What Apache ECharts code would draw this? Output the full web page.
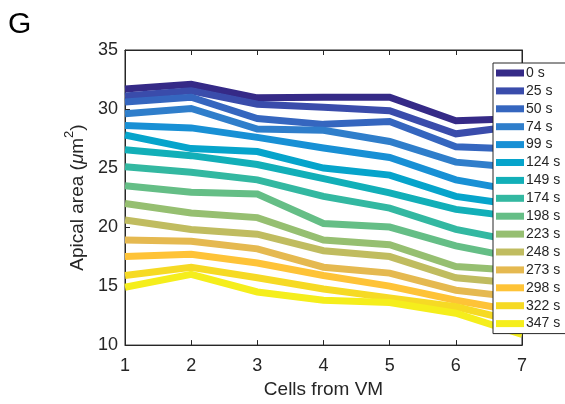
<!DOCTYPE html>
<html>
<head>
<meta charset="utf-8">
<script src="https://cdn.jsdelivr.net/npm/echarts@6/dist/echarts.min.js"></script>
<style>
html, body { margin: 0; padding: 0; background: #fff; }
#main { width: 565px; height: 404px; }
</style>
</head>
<body>
<div id="main"></div>
<script>
// cells from VM
var cells = [1, 2, 3, 4, 5, 6, 7];
var times = ['0 s', '25 s', '50 s', '74 s', '99 s', '124 s', '149 s', '174 s',
             '198 s', '223 s', '248 s', '273 s', '298 s', '322 s', '347 s'];
var yTicks = [10, 15, 20, 25, 30, 35];

// apical area per time point
var a0   = [31.7, 32.1, 30.95, 31.0, 31.0, 29.0, 29.2];
var a25  = [31.1, 31.55, 30.4, 30.15, 29.85, 27.9, 28.6];
var a50  = [30.6, 31.0, 29.2, 28.7, 28.95, 26.8, 26.6];
var a74  = [29.6, 30.05, 28.3, 28.2, 27.25, 25.5, 25.0];
var a99  = [28.6, 28.4, 27.6, 26.7, 25.9, 24.0, 23.0];
var a124 = [27.8, 26.65, 26.4, 25.0, 24.4, 22.6, 21.8];
var a149 = [26.55, 26.05, 25.3, 24.1, 22.9, 21.5, 20.8];
var a174 = [25.1, 24.65, 24.0, 22.6, 21.6, 19.8, 18.7];
var a198 = [23.5, 22.95, 22.8, 20.3, 20.0, 18.4, 17.3];
var a223 = [22.0, 21.2, 20.8, 18.9, 18.5, 16.65, 16.3];
var a248 = [20.6, 19.8, 19.4, 18.0, 17.5, 15.7, 15.2];
var a273 = [18.9, 18.8, 18.15, 16.6, 16.1, 14.65, 14.0];
var a298 = [17.5, 17.7, 16.95, 15.9, 15.0, 13.8, 12.8];
var a322 = [15.9, 16.6, 15.7, 14.75, 14.0, 13.25, 11.9];
var a347 = [14.9, 16.0, 14.5, 13.8, 13.6, 12.7, 10.9];
var areas = [a0, a25, a50, a74, a99, a124, a149, a174, a198, a223, a248, a273, a298, a322, a347];

// parula-like colours
var colors = ['#352a87', '#3a4cab', '#3566bf', '#2f7ecb', '#1890d5', '#06a4cb', '#12afb8',
              '#33b8a1', '#65be86', '#96bf71', '#c0bc60', '#e5b950', '#fec337', '#f6da24', '#f5ee1c'];

var txt = '#262626';
var font = 'Liberation Sans, Arial, Helvetica, sans-serif';

var dom = document.getElementById('main');
var myChart = echarts.init(dom);

var series = [];
for (var i = 0; i < times.length; i++) {
    series.push({
        name: times[i],
        type: 'line',
        symbol: 'none',
        xAxisIndex: 0,
        yAxisIndex: 0,
        color: colors[i],
        lineStyle: { width: 7, color: colors[i], join: 'miter', cap: 'butt' },
        data: cells.map(function (c, j) { return [c, areas[i][j]]; })
    });
}

var tickStyle = { show: true, inside: true, length: 5, lineStyle: { color: txt, width: 1 } };

var option = {
    animation: false,
    textStyle: { fontFamily: font },
    grid: { left: 125, right: 43, top: 50, bottom: 58, show: true, borderColor: txt, borderWidth: 1 },
    graphic: [{
        type: 'text', left: 8, top: 10,
        style: { text: 'G', fontSize: 30, fill: '#000', fontFamily: font }
    }],
    legend: {
        orient: 'vertical',
        left: 493, top: 63,
        padding: [3, 9, 3, 3],
        itemWidth: 28, itemHeight: 7, itemGap: 3.9,
        icon: 'rect',
        backgroundColor: '#fff',
        borderColor: txt, borderWidth: 1, borderRadius: 0,
        textStyle: { fontSize: 14, color: txt, lineHeight: 14, padding: [0, 0, 0, -3], fontFamily: font },
        data: times
    },
    xAxis: [{
        type: 'value', min: 1, max: 7, interval: 1,
        name: 'Cells from VM', nameLocation: 'middle', nameGap: 30,
        nameTextStyle: { fontSize: 19, color: txt },
        axisLine: { show: true, lineStyle: { color: txt } },
        axisTick: tickStyle,
        axisLabel: { fontSize: 18, color: txt, margin: 12 },
        splitLine: { show: false }
    }, {
        type: 'value', min: 1, max: 7, interval: 1, position: 'top',
        axisLine: { show: true, lineStyle: { color: txt } },
        axisTick: tickStyle, axisLabel: { show: false }, splitLine: { show: false }
    }],
    yAxis: [{
        type: 'value', min: yTicks[0], max: yTicks[yTicks.length - 1], interval: 5,
        name: '{n|Apical area (}{i|μ}{n|m}{s|2}{n|)}',
        nameLocation: 'middle', nameRotate: 90, nameGap: 30,
        nameTextStyle: {
            color: txt,
            rich: {
                n: { fontSize: 19, color: txt, fontFamily: font, lineHeight: 24, verticalAlign: 'bottom' },
                i: { fontSize: 19, color: txt, fontFamily: font, fontStyle: 'italic', lineHeight: 24, verticalAlign: 'bottom' },
                s: { fontSize: 13, color: txt, fontFamily: font, lineHeight: 24, verticalAlign: 'top' }
            }
        },
        axisLine: { show: true, lineStyle: { color: txt } },
        axisTick: tickStyle,
        axisLabel: { fontSize: 18, color: txt, margin: 7 },
        splitLine: { show: false }
    }, {
        type: 'value', min: yTicks[0], max: yTicks[yTicks.length - 1], interval: 5, position: 'right',
        axisLine: { show: true, lineStyle: { color: txt } },
        axisTick: tickStyle, axisLabel: { show: false }, splitLine: { show: false }
    }],
    series: series
};

if (option && typeof option === 'object') {
    myChart.setOption(option);
}
window.onresize = function () {
    myChart.resize();
};
</script>
</body>
</html>
